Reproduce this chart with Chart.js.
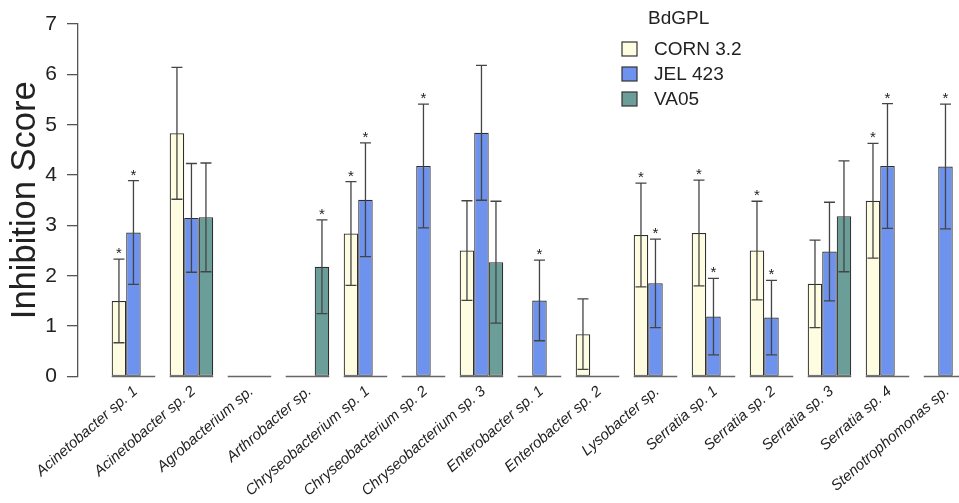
<!DOCTYPE html>
<html>
<head>
<meta charset="utf-8">
<script src="https://cdn.jsdelivr.net/npm/chart.js@4.4.1/dist/chart.umd.min.js"></script>
<style>
  html, body { margin: 0; padding: 0; background: #fff; overflow: hidden; }
  #wrap { width: 959px; height: 503px; position: relative; }
</style>
</head>
<body>
<div id="wrap"><canvas id="inhibitionChart"></canvas></div>
<script>
/* ===============================
   DATA
================================= */

const categories = [
  "Acinetobacter sp. 1", "Acinetobacter sp. 2", "Agrobacterium sp.", "Arthrobacter sp.",
  "Chryseobacterium sp. 1", "Chryseobacterium sp. 2", "Chryseobacterium sp. 3",
  "Enterobacter sp. 1", "Enterobacter sp. 2", "Lysobacter sp.",
  "Serratia sp. 1", "Serratia sp. 2", "Serratia sp. 3", "Serratia sp. 4",
  "Stenotrophomonas sp."
];

const seriesNames = ["CORN 3.2", "JEL 423", "VA05"];
const legendTitle = "BdGPL";

const cornValues = [1.50, 4.83, null, null, 2.84, null, 2.50, null, 0.84, 2.81, 2.85, 2.50, 1.84, 3.49, null];
const jelValues  = [2.86, 3.15, null, null, 3.51, 4.18, 4.84, 1.51, null, 1.85, 1.19, 1.17, 2.48, 4.18, 4.17];
const vaValues   = [null, 3.16, null, 2.18, null, null, 2.27, null, null, null, null, null, 3.18, null, null];

const cornErrors = [0.83, 1.31, null, null, 1.03, null, 0.99, null, 0.70, 1.03, 1.05, 0.98, 0.87, 1.14, null];
const jelErrors  = [1.03, 1.08, null, null, 1.13, 1.23, 1.34, 0.80, null, 0.88, 0.76, 0.74, 0.98, 1.24, 1.24];
const vaErrors   = [null, 1.08, null, 0.93, null, null, 1.21, null, null, null, null, null, 1.10, null, null];

// significance stars
const cornSig = [true, false, false, false, true, false, false, false, false, true, true, true, false, true, false];
const jelSig  = [true, false, false, false, true, true, false, true, false, true, true, true, false, true, true];
const vaSig   = [false, false, false, true, false, false, false, false, false, false, false, false, false, false, false];

const yTicks = [0, 1, 2, 3, 4, 5, 6, 7];

/* ===============================
   STYLE
================================= */

const FONT = "'Liberation Sans', Arial, sans-serif";
const INK = "#222";
const LINE = "#444";
const colors = ["#fffde1", "#6e93ef", "#6b9e98"];
const errorSets = [cornErrors, jelErrors, vaErrors];
const sigSets = [cornSig, jelSig, vaSig];
const CAT_PCT = 0.75;

/* ===============================
   PLUGINS
================================= */

// short baseline under each group
const groupBaselines = {
  id: "groupBaselines",
  beforeDatasetsDraw(chart) {
    const { ctx, scales: { x, y } } = chart;
    const half = (x.getPixelForValue(1) - x.getPixelForValue(0)) * CAT_PCT / 2;
    const y0 = y.getPixelForValue(0);
    ctx.save();
    ctx.strokeStyle = "#666";
    ctx.lineWidth = 1.5;
    categories.forEach((c, i) => {
      const cx = x.getPixelForValue(i);
      ctx.beginPath();
      ctx.moveTo(cx - half, y0);
      ctx.lineTo(cx + half, y0);
      ctx.stroke();
    });
    ctx.restore();
  }
};

// error bars and stars
const errorBars = {
  id: "errorBars",
  afterDatasetsDraw(chart) {
    const { ctx, scales: { y } } = chart;
    ctx.save();
    ctx.strokeStyle = LINE;
    ctx.lineWidth = 1.3;
    ctx.fillStyle = INK;
    ctx.font = "15px " + FONT;
    ctx.textAlign = "center";
    ctx.textBaseline = "alphabetic";
    chart.data.datasets.forEach((ds, d) => {
      const meta = chart.getDatasetMeta(d);
      ds.data.forEach((pt, i) => {
        const err = errorSets[d][i];
        if (pt.y === null || err === null) return;
        const bx = meta.data[i].x;
        const top = y.getPixelForValue(pt.y + err);
        const bot = y.getPixelForValue(pt.y - err);
        ctx.beginPath();
        ctx.moveTo(bx, top);
        ctx.lineTo(bx, bot);
        ctx.moveTo(bx - 5.5, top);
        ctx.lineTo(bx + 5.5, top);
        ctx.moveTo(bx - 5.5, bot);
        ctx.lineTo(bx + 5.5, bot);
        ctx.stroke();
        if (sigSets[d][i]) ctx.fillText("*", bx, top - 1);
      });
    });
    ctx.restore();
  }
};

// legend block with title
const sideLegend = {
  id: "sideLegend",
  afterDraw(chart) {
    const { ctx } = chart;
    ctx.save();
    ctx.fillStyle = INK;
    ctx.font = "19px " + FONT;
    ctx.textAlign = "left";
    ctx.textBaseline = "alphabetic";
    ctx.fillText(legendTitle, 648, 24);
    ctx.textBaseline = "middle";
    chart.data.datasets.forEach((ds, d) => {
      const top = 42 + d * 25;
      ctx.fillStyle = ds.backgroundColor;
      ctx.fillRect(622, top, 15, 14);
      ctx.strokeStyle = "#333";
      ctx.lineWidth = 1.2;
      ctx.strokeRect(622, top, 15, 14);
      ctx.fillStyle = INK;
      ctx.fillText(ds.label, 654, top + 7.5);
    });
    ctx.restore();
  }
};

/* ===============================
   CHART
================================= */

function toPoints(values) {
  return values.map((v, i) => ({ x: i, y: v }));
}

const valueSets = [cornValues, jelValues, vaValues];

new Chart(document.getElementById("inhibitionChart"), {
  type: "bar",
  data: {
    datasets: seriesNames.map((name, d) => ({
      label: name,
      data: toPoints(valueSets[d]),
      backgroundColor: colors[d],
      borderColor: "#2e2e2e",
      borderWidth: 1.2,
      borderSkipped: false,
      barPercentage: 1,
      categoryPercentage: CAT_PCT
    }))
  },
  options: {
    responsive: true,
    maintainAspectRatio: false,
    animation: false,
    layout: { padding: { left: 0, top: 24, right: 0, bottom: 0 } },
    plugins: {
      legend: { display: false },
      tooltip: { enabled: false }
    },
    scales: {
      x: {
        type: "linear",
        offset: false,
        min: -0.956,
        max: 14.233,
        grid: { display: false },
        border: { display: false },
        afterBuildTicks: s => { s.ticks = categories.map((c, i) => ({ value: i })); },
        afterFit: s => { s.height = 126.5; s.paddingLeft = 0; s.paddingRight = 0; },
        ticks: {
          autoSkip: false,
          minRotation: 41,
          maxRotation: 41,
          padding: -2,
          labelOffset: 2,
          color: INK,
          font: { family: FONT, size: 15, style: "italic" },
          callback: v => categories[v]
        }
      },
      y: {
        min: 0,
        max: 7,
        afterBuildTicks: s => { s.ticks = yTicks.map(v => ({ value: v })); },
        afterFit: s => { s.width = 78; },
        grid: {
          drawOnChartArea: false,
          drawTicks: true,
          tickLength: 11,
          color: "#555",
          lineWidth: 1.3
        },
        border: { display: true, color: "#555", width: 1.3 },
        ticks: {
          padding: 10,
          color: INK,
          font: { family: FONT, size: 21 }
        },
        title: {
          display: true,
          text: "Inhibition Score",
          color: INK,
          padding: { top: 5, bottom: 0 },
          font: { family: FONT, size: 34.5 }
        }
      }
    }
  },
  plugins: [groupBaselines, errorBars, sideLegend]
});
</script>
</body>
</html>
